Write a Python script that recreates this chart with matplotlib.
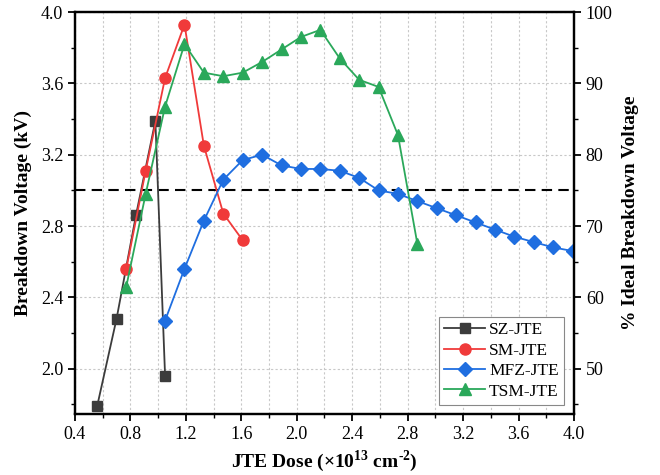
import matplotlib
matplotlib.use('Agg')
import matplotlib.pyplot as plt
from matplotlib.ticker import MultipleLocator

plt.rcParams['font.family'] = ['Liberation Serif', 'DejaVu Serif']
plt.rcParams['mathtext.fontset'] = 'custom'
plt.rcParams['mathtext.rm'] = 'Liberation Serif'
plt.rcParams['mathtext.bf'] = 'Liberation Serif:bold'

# datos
sz_x = [0.56, 0.70, 0.84, 0.98, 1.05]
sz_y = [1.79, 2.28, 2.86, 3.39, 1.96]

sm_x = [0.77, 0.91, 1.05, 1.19, 1.33, 1.47, 1.61]
sm_y = [2.56, 3.11, 3.63, 3.93, 3.25, 2.87, 2.72]

mfz_x = [1.05, 1.19, 1.33, 1.47, 1.61, 1.75, 1.89, 2.03, 2.17, 2.31, 2.45,
         2.59, 2.73, 2.87, 3.01, 3.15, 3.29, 3.43, 3.57, 3.71, 3.85, 3.99]
mfz_y = [2.27, 2.56, 2.83, 3.06, 3.17, 3.20, 3.14, 3.12, 3.12, 3.11, 3.07,
         3.00, 2.98, 2.94, 2.90, 2.86, 2.82, 2.78, 2.74, 2.71, 2.68, 2.66]

tsm_x = [0.77, 0.91, 1.05, 1.19, 1.33, 1.47, 1.61, 1.75, 1.89, 2.03, 2.17,
         2.31, 2.45, 2.59, 2.73, 2.87]
tsm_y = [2.46, 2.98, 3.47, 3.82, 3.66, 3.64, 3.66, 3.72, 3.79, 3.86, 3.90,
         3.74, 3.62, 3.58, 3.31, 2.70]

ideal_bv = 4.0       # kV -> 100 %
umbral = 3.0         # línea discontinua (75 %)

fig = plt.figure(figsize=(6.6, 4.75), dpi=100)
ax = fig.add_axes([0.1136, 0.1284, 0.7561, 0.8463])

ax.plot(sz_x, sz_y, color='#3c3c3c', marker='s', ms=7, lw=1.3, label='SZ-JTE', zorder=3)
ax.plot(sm_x, sm_y, color='#f03a3a', marker='o', ms=8, lw=1.3, label='SM-JTE', zorder=3)
ax.plot(mfz_x, mfz_y, color='#1f6ee0', marker='D', ms=7, lw=1.3, label='MFZ-JTE', zorder=3)
ax.plot(tsm_x, tsm_y, color='#2aa85a', marker='^', ms=8.5, lw=1.3, label='TSM-JTE', zorder=3)
ax.axhline(umbral, color='black', ls=(0, (5, 3)), lw=1.5, zorder=2)

ax.set_xlim(0.4, 4.0)
ax.set_ylim(1.746, 4.0)
ax.xaxis.set_major_locator(MultipleLocator(0.4))
ax.xaxis.set_minor_locator(MultipleLocator(0.2))
ax.yaxis.set_major_locator(MultipleLocator(0.4))
ax.yaxis.set_minor_locator(MultipleLocator(0.2))
ax.xaxis.set_major_formatter(plt.FormatStrFormatter('%.1f'))
ax.yaxis.set_major_formatter(plt.FormatStrFormatter('%.1f'))

ax.grid(True, which='both', axis='x', color='#c8c8c8', ls=(0, (2, 2)), lw=0.8)
ax.grid(True, which='major', axis='y', color='#c8c8c8', ls=(0, (2, 2)), lw=0.8)
ax.set_axisbelow(True)

ax.tick_params(which='major', direction='out', length=5, width=1.3, labelsize=13, top=False)
ax.tick_params(which='minor', direction='out', length=3, width=1.0, top=False)
for s in ax.spines.values():
    s.set_linewidth(1.6)

ax.set_xlabel('JTE Dose (×10$^{\\mathbf{13}}$ cm$^{\\mathbf{\\text{-}2}}$)', fontsize=14, fontweight='bold', labelpad=4)
ax.set_ylabel('Breakdown Voltage (kV)', fontsize=14, fontweight='bold', labelpad=6)

# eje derecho en % del voltaje ideal
ax2 = ax.twinx()
ax2.set_ylim(1.746 / ideal_bv * 100, 100)
ax2.yaxis.set_major_locator(MultipleLocator(10))
ax2.yaxis.set_minor_locator(MultipleLocator(5))
ax2.tick_params(which='major', direction='out', length=5, width=1.3, labelsize=13)
ax2.tick_params(which='minor', direction='out', length=3, width=1.0)
ax2.set_ylabel('% Ideal Breakdown Voltage', fontsize=14, fontweight='bold', labelpad=7)
for s in ax2.spines.values():
    s.set_linewidth(1.6)

leg = ax.legend(loc='lower right', bbox_to_anchor=(0.99, 0.01), fontsize=12.5,
                fancybox=False, edgecolor='#888888', framealpha=1,
                handlelength=2.4, handletextpad=0.2, borderpad=0.3, labelspacing=0.25,
                borderaxespad=0.3)
leg.get_frame().set_linewidth(0.8)

plt.savefig('out.png', dpi=100)
plt.close()
